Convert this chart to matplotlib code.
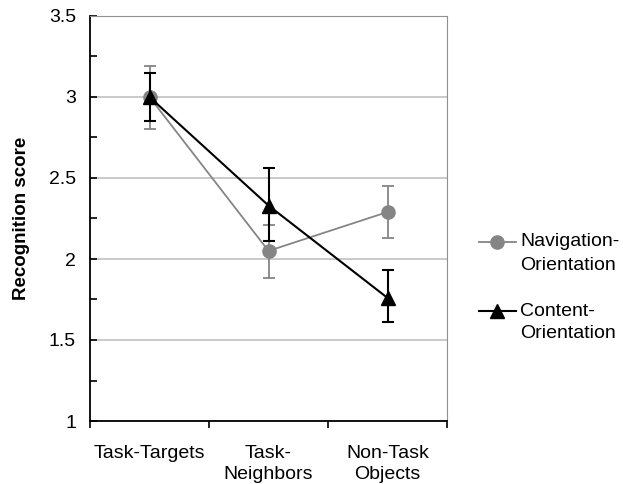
import numpy as np
import matplotlib
matplotlib.use("Agg")
import matplotlib.pyplot as plt
from matplotlib.lines import Line2D
from matplotlib.ticker import MultipleLocator

plt.rcParams['font.family'] = ['Liberation Sans', 'DejaVu Sans']

categories = ['Task-Targets', 'Task-\nNeighbors', 'Non-Task\nObjects']
nav_mean = [3.00, 2.05, 2.29]
nav_low = [2.80, 1.88, 2.13]
nav_high = [3.19, 2.21, 2.45]
con_mean = [3.00, 2.33, 1.76]
con_low = [2.85, 2.11, 1.61]
con_high = [3.15, 2.56, 1.93]
series_names = [['Navigation-', 'Orientation'], ['Content-', 'Orientation']]

GRAY = '#858585'
W, H = 623, 484


def main():
    fig = plt.figure(figsize=(W / 100, H / 100), dpi=100)
    ax = fig.add_axes([90 / W, 63 / H, 357 / W, 405 / H])

    x = np.arange(len(categories))
    nav_err = [np.subtract(nav_mean, nav_low), np.subtract(nav_high, nav_mean)]
    con_err = [np.subtract(con_mean, con_low), np.subtract(con_high, con_mean)]

    ax.errorbar(x, nav_mean, yerr=nav_err, color=GRAY, marker='o', markersize=9.5,
                lw=1.3, elinewidth=1.3, capsize=4, capthick=1.3, zorder=3)
    ax.errorbar(x, con_mean, yerr=con_err, color='black', marker='^', markersize=9.5,
                lw=1.5, elinewidth=1.5, capsize=4, capthick=1.5, zorder=4)

    ax.set_xlim(-0.5, 2.5)
    ax.set_ylim(1, 3.5)
    ax.yaxis.set_minor_locator(MultipleLocator(0.25))
    ax.set_yticks([1, 1.5, 2, 2.5, 3, 3.5])
    ax.set_yticklabels(['1', '1.5', '2', '2.5', '3', '3.5'], fontsize=14)
    ax.grid(axis='y', which='major', color='#c0c0c0', lw=1.2, zorder=0)

    # ticks on category boundaries, labels centered
    ax.set_xticks([-0.5, 0.5, 1.5, 2.5])
    ax.set_xticklabels([])
    ax.set_xticks(x, minor=True)
    ax.set_xticklabels(categories, minor=True, fontsize=14, va='top', linespacing=1.3)
    ax.tick_params(axis='x', which='minor', length=0, pad=17)
    ax.tick_params(axis='x', which='major', length=5, direction='out', width=1.2)
    ax.tick_params(axis='y', which='both', length=5, direction='in', width=1.2, pad=10)

    ax.spines['left'].set_color('black')
    ax.spines['bottom'].set_color('black')
    ax.spines['left'].set_linewidth(1.3)
    ax.spines['bottom'].set_linewidth(1.3)
    ax.spines['top'].set_color('#909090')
    ax.spines['right'].set_color('#909090')

    ax.set_ylabel('Recognition score', fontsize=13.5, fontweight='bold', labelpad=14)

    # legend drawn by hand so the handle sits on the first text line
    styles = [dict(color=GRAY, marker='o', lw=1.3, ms=9.5),
              dict(color='black', marker='^', lw=1.5, ms=9.5)]
    for i, (lines, st) in enumerate(zip(series_names, styles)):
        yc = 1 - (242 + 69 * i) / H
        fig.add_artist(Line2D([479 / W, 516 / W], [yc, yc], color=st['color'],
                              lw=st['lw'], transform=fig.transFigure))
        fig.add_artist(Line2D([497 / W], [yc], color=st['color'], marker=st['marker'],
                              ms=st['ms'], ls='none', transform=fig.transFigure))
        for j, line in enumerate(lines):
            fig.text(520 / W, yc - j * 23 / H, line, fontsize=14, va='center', ha='left')

    fig.savefig('out.png', dpi=100)


if __name__ == "__main__":
    main()
